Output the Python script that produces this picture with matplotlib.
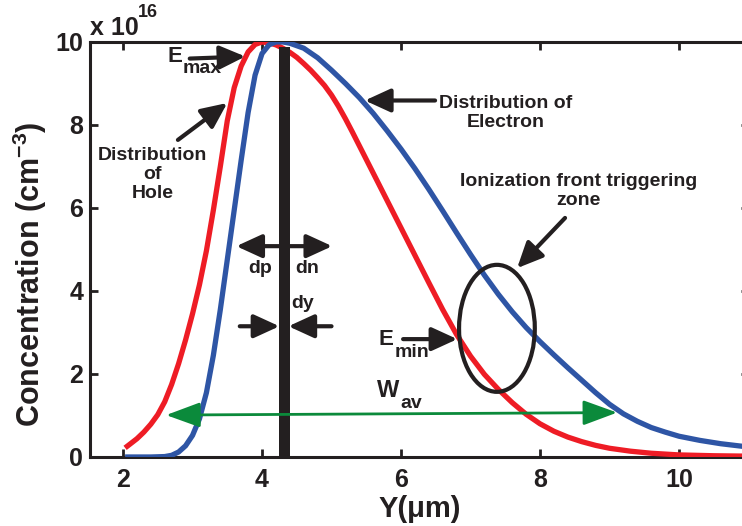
import numpy as np
import matplotlib
matplotlib.use("Agg")
import matplotlib.pyplot as plt
from matplotlib.patches import Ellipse

plt.rcParams['font.family'] = ['Liberation Sans', 'DejaVu Sans']
plt.rcParams['font.weight'] = 'bold'
plt.rcParams['mathtext.fontset'] = 'custom'
plt.rcParams['mathtext.rm'] = 'Liberation Sans:bold'
plt.rcParams['mathtext.it'] = 'Liberation Sans:bold'
plt.rcParams['mathtext.bf'] = 'Liberation Sans:bold'

# concentration in units of 1e16 cm^-3
hole_x = [2.03, 2.1, 2.2, 2.3, 2.4, 2.5, 2.6, 2.7, 2.8, 2.9, 3.0, 3.1, 3.2, 3.3,
          3.4, 3.5, 3.6, 3.7, 3.8, 3.9, 4.0, 4.1, 4.2, 4.3, 4.4, 4.5, 4.6, 4.7,
          4.8, 4.9, 5.0, 5.1, 5.2, 5.3, 5.4, 5.5, 5.6, 5.8, 6.0, 6.2, 6.4, 6.6,
          6.8, 7.0, 7.2, 7.4, 7.6, 7.8, 8.0, 8.2, 8.4, 8.6, 8.8, 9.0, 9.3, 9.6,
          10.0, 10.5, 11.0]
hole_y = [0.22, 0.31, 0.44, 0.6, 0.79, 1.02, 1.33, 1.75, 2.25, 2.82, 3.45, 4.15, 4.97, 5.95,
          7.0, 8.1, 8.9, 9.42, 9.76, 9.94, 10.0, 9.98, 9.93, 9.85, 9.75, 9.63, 9.48, 9.32,
          9.14, 8.95, 8.72, 8.45, 8.15, 7.83, 7.5, 7.17, 6.84, 6.18, 5.52, 4.86, 4.2, 3.55,
          2.95, 2.43, 1.99, 1.63, 1.31, 1.03, 0.8, 0.62, 0.48, 0.37, 0.28, 0.21, 0.14, 0.09,
          0.05, 0.03, 0.02]

elec_x = [2.03, 2.4, 2.6, 2.7, 2.8, 2.9, 3.0, 3.1, 3.2, 3.3, 3.4, 3.5, 3.6, 3.7,
          3.8, 3.9, 4.0, 4.1, 4.2, 4.3, 4.4, 4.6, 4.8, 5.0, 5.2, 5.4, 5.6, 5.8,
          6.0, 6.2, 6.4, 6.6, 6.8, 7.0, 7.2, 7.4, 7.6, 7.8, 8.0, 8.2, 8.4, 8.6,
          8.8, 9.0, 9.2, 9.4, 9.6, 9.8, 10.0, 10.3, 10.6, 11.0]
elec_y = [0.0, 0.0, 0.01, 0.04, 0.12, 0.27, 0.52, 0.92, 1.55, 2.45, 3.55, 4.75, 5.95, 7.15,
          8.3, 9.2, 9.72, 9.93, 10.0, 10.0, 9.97, 9.85, 9.62, 9.32, 9.0, 8.66, 8.28, 7.86,
          7.42, 6.95, 6.45, 5.93, 5.4, 4.88, 4.38, 3.92, 3.5, 3.12, 2.78, 2.46, 2.15, 1.85,
          1.55, 1.27, 1.04, 0.86, 0.71, 0.6, 0.5, 0.4, 0.32, 0.24]

xticks = [2, 4, 6, 8, 10]
yticks = [0, 2, 4, 6, 8, 10]

TXT = '#231F20'
RED = '#EE1C25'
BLUE = '#2E55A5'
GREEN = '#0B8A3B'

fig = plt.figure(figsize=(7.42, 5.26), dpi=100)
ax = fig.add_axes([0.1213, 0.1312, 0.8875, 0.789])

ax.plot(hole_x, hole_y, color=RED, lw=3.8, solid_capstyle='butt', zorder=3)
ax.plot(elec_x, elec_y, color=BLUE, lw=3.8, solid_capstyle='butt', zorder=3)
ax.bar([4.325], [9.88], width=0.16, color=TXT, zorder=4)

ax.set_xlim(1.525, 11.0)
ax.set_ylim(0, 10)
ax.set_xticks(xticks)
ax.set_yticks(yticks)
ax.tick_params(direction='in', length=6, width=2, top=True, right=True,
               labelsize=18, colors=TXT)
ax.tick_params(axis='x', pad=8)
ax.tick_params(axis='y', pad=5)
for s in ax.spines.values():
    s.set_linewidth(2.2)
    s.set_color(TXT)

ax.set_xlabel('Y(μm)', fontsize=21, fontweight='bold', color=TXT, labelpad=2)
ax.set_ylabel(r'Concentration (cm$^{\mathregular{-3}}$)', fontsize=22,
              fontweight='bold', color=TXT)
ax.yaxis.set_label_coords(-0.062, 0.44)
ax.text(0.0, 1.034, 'x 10', transform=ax.transAxes, fontsize=18,
        color=TXT, ha='left', va='center')
ax.text(0.073, 1.07, '16', transform=ax.transAxes, fontsize=13,
        color=TXT, ha='left', va='center')

arrow = dict(arrowstyle='-|>,head_length=1.2,head_width=0.55', color=TXT,
             lw=3, mutation_scale=13, shrinkA=0, shrinkB=0)
both = dict(arrowstyle='<|-|>,head_length=1.2,head_width=0.55', color=TXT,
            lw=3, mutation_scale=13, shrinkA=0, shrinkB=0)

def note(xy, xytext, style=arrow):
    ax.annotate('', xy=xy, xytext=xytext, arrowprops=style, zorder=5)

fs = 14
# E max
note((3.76, 9.65), (2.96, 9.6))
ax.text(2.647, 9.64, 'E', fontsize=16, color=TXT, ha='left', va='center')
ax.text(2.863, 9.35, 'max', fontsize=fs, color=TXT, ha='left', va='center')

# hole
note((3.50, 8.53), (2.79, 7.64))
ax.text(2.43, 6.8, 'Distribution\nof\nHole', fontsize=fs, color=TXT,
        ha='center', va='center', linespacing=1.15)

# electron
note((5.48, 8.59), (6.49, 8.59))
ax.text(7.5, 8.3, 'Distribution of\nElectron', fontsize=fs, color=TXT,
        ha='center', va='center', linespacing=1.15)

# dp / dn
note((5.01, 5.08), (3.63, 5.08), both)
ax.text(3.97, 4.55, 'dp', fontsize=fs, color=TXT, ha='center', va='center')
ax.text(4.65, 4.55, 'dn', fontsize=fs, color=TXT, ha='center', va='center')
ax.text(4.59, 3.71, 'dy', fontsize=fs, color=TXT, ha='center', va='center')
note((4.25, 3.15), (3.68, 3.15))
note((4.38, 3.15), (5.0, 3.15))

# E min
note((6.81, 2.84), (6.03, 2.84))
ax.text(5.683, 2.82, 'E', fontsize=16, color=TXT, ha='left', va='center')
ax.text(5.914, 2.51, 'min', fontsize=fs, color=TXT, ha='left', va='center')

# ionization zone
ax.add_patch(Ellipse((7.38, 3.10), 1.09, 3.06, fill=False, lw=3,
                     edgecolor=TXT, zorder=5))
note((7.67, 4.55), (8.36, 5.76))
ax.text(8.55, 6.4, 'Ionization front triggering\nzone', fontsize=fs,
        color=TXT, ha='center', va='center', linespacing=1.15)

# W av
green = dict(arrowstyle='<|-|>,head_length=1.5,head_width=0.55', color=GREEN,
             lw=2, mutation_scale=14, shrinkA=0, shrinkB=0)
note((9.11, 1.07), (2.62, 1.01), green)
ax.text(5.655, 1.61, 'W', fontsize=17, color=TXT, ha='left', va='center')
ax.text(5.986, 1.30, 'av', fontsize=fs, color=TXT, ha='left', va='center')

fig.savefig('out.png', dpi=100)
